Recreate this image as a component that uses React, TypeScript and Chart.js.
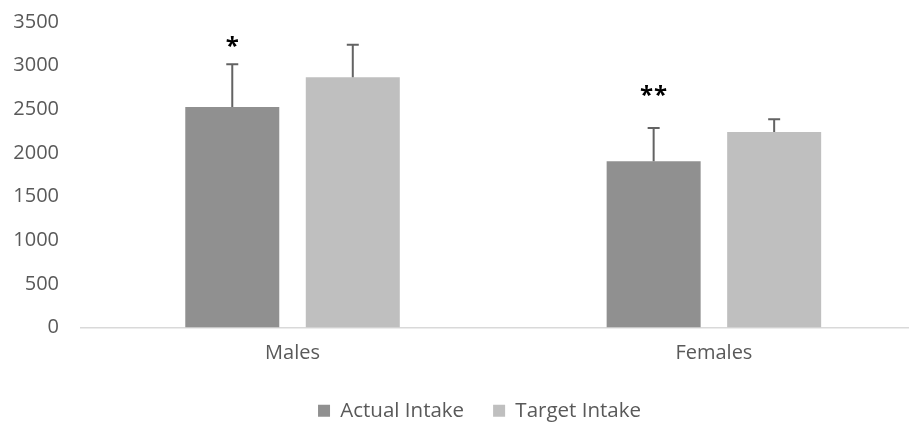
import React, { useEffect, useRef } from "react";
import { Chart, registerables } from "chart.js";

Chart.register(...registerables);

const categories = ["Males", "Females"];
const seriesNames = ["Actual Intake", "Target Intake"];
const actualIntake = [2525, 1905];
const targetIntake = [2867, 2240];
const actualSD = [492, 382];
const targetSD = [372, 145];
const significance = ["*", "**"];
const significanceLevel = [3260, 2700];
const yTicks = [0, 500, 1000, 1500, 2000, 2500, 3000, 3500];

const FONT = "'Open Sans', 'DejaVu Sans', sans-serif";

const errorBarPlugin = {
  id: "errorBars",
  afterDatasetsDraw(chart: any) {
    const ctx = chart.ctx;
    const yScale = chart.scales.y;
    const sds = [actualSD, targetSD];
    ctx.save();
    ctx.strokeStyle = "#636363";
    ctx.lineWidth = 2;
    chart.data.datasets.forEach((ds: any, di: number) => {
      const meta = chart.getDatasetMeta(di);
      meta.data.forEach((el: any, i: number) => {
        const v = ds.data[i].y;
        const top = yScale.getPixelForValue(v + sds[di][i]);
        ctx.beginPath();
        ctx.moveTo(el.x, el.y);
        ctx.lineTo(el.x, top);
        ctx.moveTo(el.x - 6, top);
        ctx.lineTo(el.x + 6, top);
        ctx.stroke();
      });
    });
    // significance markers over actual intake bars
    const meta0 = chart.getDatasetMeta(0);
    ctx.fillStyle = "#000000";
    ctx.font = `bold 24px ${FONT}`;
    ctx.textAlign = "center";
    ctx.textBaseline = "alphabetic";
    meta0.data.forEach((el: any, i: number) => {
      const y = yScale.getPixelForValue(significanceLevel[i]);
      const marks = significance[i].split("");
      const gap = 14;
      const startX = el.x - ((marks.length - 1) * gap) / 2;
      marks.forEach((m, k) => ctx.fillText(m, startX + k * gap, y + 11));
    });
    ctx.restore();
  },
};

const legendShiftPlugin = {
  id: "legendShift",
  afterLayout(chart: any) {
    if (chart.legend) {
      chart.legend.left += 20;
      chart.legend.right += 20;
    }
  },
};

export default function App() {
  const ref = useRef<HTMLCanvasElement>(null);

  useEffect(() => {
    document.body.style.margin = "0";
    const canvas = ref.current!;
    const chart = new Chart(canvas, {
      type: "bar",
      data: {
        datasets: [
          {
            label: seriesNames[0],
            data: actualIntake.map((y, i) => ({ x: i, y })),
            backgroundColor: "#909090",
            borderWidth: 0,
          },
          {
            label: seriesNames[1],
            data: targetIntake.map((y, i) => ({ x: i, y })),
            backgroundColor: "#bfbfbf",
            borderWidth: 0,
          },
        ],
      },
      options: {
        responsive: false,
        animation: false,
        categoryPercentage: 0.572,
        barPercentage: 0.78,
        layout: { padding: { top: 22, left: 10, right: 0, bottom: -6 } },
        plugins: {
          tooltip: { enabled: false },
          legend: {
            position: "bottom",
            labels: {
              boxWidth: 12,
              boxHeight: 12,
              padding: 29,
              color: "#595959",
              font: { family: FONT, size: 20.5 },
            },
          },
        },
        scales: {
          x: {
            type: "linear",
            offset: false,
            min: -0.502,
            max: 1.463,
            afterBuildTicks(scale: any) {
              scale.ticks = categories.map((_, i) => ({ value: i }));
            },
            afterFit(scale: any) {
              scale.height = 44;
              scale.paddingLeft = 0;
              scale.paddingRight = 0;
            },
            ticks: {
              callback: (v: any) => categories[v] ?? "",
              color: "#595959",
              font: { family: FONT, size: 20 },
              padding: 14,
              maxRotation: 0,
              autoSkip: false,
            },
            grid: { display: true, drawOnChartArea: false, drawTicks: false },
            border: { display: true, color: "#d9d9d9", width: 1.5 },
          },
          y: {
            min: 0,
            max: 3500,
            afterBuildTicks(scale: any) {
              scale.ticks = yTicks.map((v) => ({ value: v }));
            },
            afterFit(scale: any) {
              scale.width = 71;
              scale.paddingTop = 0;
              scale.paddingBottom = 0;
            },
            ticks: {
              callback: (v: any) => String(v),
              color: "#595959",
              font: { family: FONT, size: 20 },
              padding: 22,
            },
            grid: { display: false, drawTicks: false },
            border: { display: false },
          },
        },
      } as any,
      plugins: [errorBarPlugin, legendShiftPlugin],
    });
    return () => chart.destroy();
  }, []);

  return (
    <div style={{ width: 909, height: 425 }}>
      <canvas ref={ref} width={909} height={425} />
    </div>
  );
}
